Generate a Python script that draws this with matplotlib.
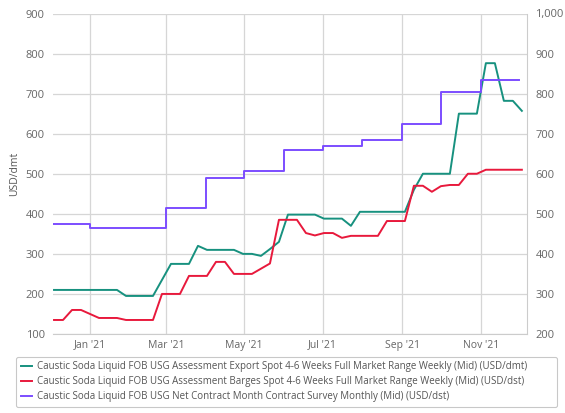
import matplotlib
matplotlib.use("Agg")
import matplotlib.pyplot as plt
import matplotlib.dates as mdates
import numpy as np
import pandas as pd

plt.rcParams['font.family'] = ['Open Sans', 'DejaVu Sans']

# weekly (Friday) assessments
weeks = pd.date_range('2020-12-04', periods=53, freq='7D')

export_spot = [210, 210, 210, 210, 210, 210, 210, 210,
               195, 195, 195, 195, 235, 275, 275, 275,
               320, 310, 310, 310, 310, 300, 300, 295,
               312, 330, 398, 398, 398, 398, 388, 388,
               388, 370, 405, 405, 405, 405, 405, 405,
               460, 500, 500, 500, 500, 650, 650, 650,
               776, 776, 682, 682, 657]

barges_spot = [235, 235, 260, 260, 250, 240, 240, 240,
               235, 235, 235, 235, 300, 300, 300, 345,
               345, 345, 380, 380, 350, 350, 350, 363,
               376, 485, 485, 485, 452, 446, 452, 452,
               440, 445, 445, 445, 445, 482, 482, 482,
               570, 570, 555, 569, 572, 572, 600, 600,
               610, 610, 610, 610, 610]

# monthly contract survey
months = pd.date_range('2020-12-01', '2021-12-01', freq='MS')
contract = [475, 465, 465, 515, 590, 607, 660, 670, 685, 725, 805, 835, 835]

labels = [
    'Caustic Soda Liquid FOB USG Assessment Export Spot 4-6 Weeks Full Market Range Weekly (Mid) (USD/dmt)',
    'Caustic Soda Liquid FOB USG Assessment Barges Spot 4-6 Weeks Full Market Range Weekly (Mid) (USD/dst)',
    'Caustic Soda Liquid FOB USG Net Contract Month Contract Survey Monthly (Mid) (USD/dst)',
]
colors = ['#17917f', '#e8193c', '#7c4dff']

fig = plt.figure(figsize=(5.65, 4.13), dpi=100)
ax = fig.add_axes([53 / 565, 79 / 413, 474 / 565, 320.5 / 413])
ax2 = ax.twinx()

l1, = ax.plot(weeks, export_spot, color=colors[0], lw=1.4)
l2, = ax2.plot(weeks, barges_spot, color=colors[1], lw=1.4)
l3, = ax2.plot(months, contract, color=colors[2], lw=1.4, drawstyle='steps-post')

ax.set_xlim(pd.Timestamp('2020-12-03 05:00'), pd.Timestamp('2021-12-07'))
ax.set_ylim(100, 900)
ax2.set_ylim(200, 1000)
ax.set_yticks(range(100, 901, 100))
ax2.set_yticks(range(200, 1001, 100))
ax2.yaxis.set_major_formatter(matplotlib.ticker.StrMethodFormatter('{x:,.0f}'))

ax.xaxis.set_major_locator(mdates.MonthLocator(bymonth=[1, 3, 5, 7, 9, 11]))
ax.xaxis.set_major_formatter(mdates.DateFormatter("%b '%y"))

ax.grid(True, color='#d6d6d6', lw=0.9)
ax.set_axisbelow(True)
for a in (ax, ax2):
    a.tick_params(length=0, labelsize=8, colors='#666666', pad=6)
    for s in a.spines.values():
        s.set_visible(False)
ax2.spines['right'].set_visible(True)
ax2.spines['right'].set_color('#cccccc')
ax.spines['bottom'].set_visible(True)
ax.spines['bottom'].set_color('#cccccc')
ax.tick_params(axis='x', labelsize=7.5, pad=4)

ax.set_ylabel('USD/dmt', fontsize=7.5, color='#555555', labelpad=4)

leg = fig.legend([l1, l2, l3], labels, loc='lower left',
                 bbox_to_anchor=(11 / 565, 1 / 413, 551 / 565, 52 / 413),
                 mode='expand', fontsize=7, handlelength=1.2, handletextpad=0.5,
                 labelspacing=0.4, borderpad=0.5, frameon=True, fancybox=True,
                 edgecolor='#bbbbbb', labelcolor='#555555')
leg.get_frame().set_linewidth(0.8)

fig.savefig('out.png', dpi=100)
